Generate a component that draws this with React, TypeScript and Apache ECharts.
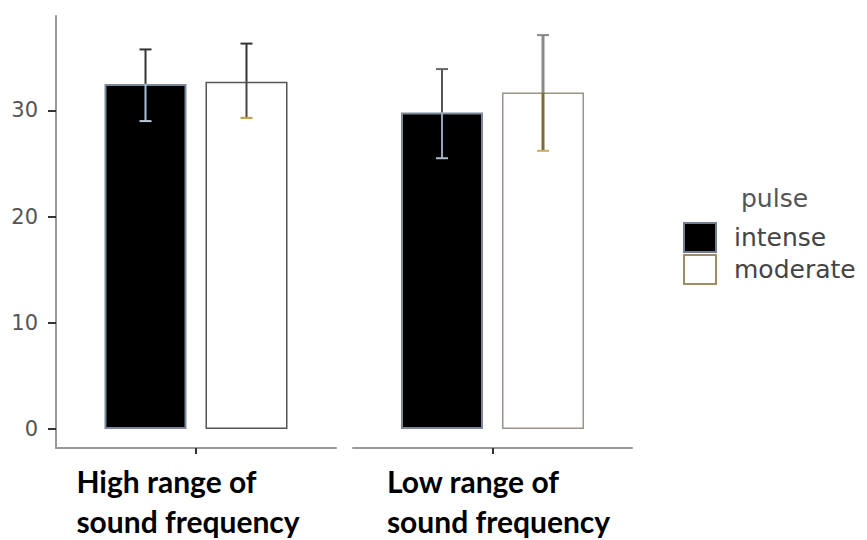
import React, { useEffect, useRef } from "react";
import * as echarts from "echarts";

const categories = ["High range of\nsound frequency", "Low range of\nsound frequency"];
const pulseLevels = ["intense", "moderate"];
const intenseMeans = [32.5, 29.8];
const moderateMeans = [32.7, 31.7];
const intenseLow = [29.0, 25.5];
const intenseHigh = [35.75, 33.9];
const moderateLow = [29.3, 26.2];
const moderateHigh = [36.3, 37.1];
const yTickValues = [0, 10, 20, 30];
const yMin = -1.8;
const yMax = 38.9;

const BAR_W = 82;
const BAR_GAP = 19;
const OFFSET = (BAR_W + BAR_GAP) / 2;
const LABEL_PADDING = [
  [0, 16, 0, 0],
  [0, 0, 0, 12],
];

type ErrStyle = { upper: string; lower: string; capTop: string; capBottom: string; w: number };

const errStyles: Record<string, ErrStyle[]> = {
  intense: [
    { upper: "#333333", lower: "#a9c0da", capTop: "#333333", capBottom: "#b8c8da", w: 2 },
    { upper: "#555555", lower: "#93a6bd", capTop: "#666666", capBottom: "#b0bccb", w: 2 },
  ],
  moderate: [
    { upper: "#333333", lower: "#444444", capTop: "#333333", capBottom: "#c49a3c", w: 2 },
    { upper: "#8a8a8a", lower: "#7a6a3c", capTop: "#888888", capBottom: "#c8ae5a", w: 3 },
  ],
};

export default function App() {
  const ref = useRef<HTMLDivElement>(null);
  useEffect(() => {
    document.body.style.margin = "0";
    if (!ref.current) return;
    const chart = echarts.init(ref.current, undefined, { renderer: "svg" });

    const series: any[] = [];
    categories.forEach((cat, gi) => {
      series.push({
        type: "bar",
        name: "intense",
        xAxisIndex: gi,
        yAxisIndex: gi,
        data: [intenseMeans[gi]],
        barWidth: BAR_W,
        barGap: (BAR_GAP / BAR_W) * 100 + "%",
        itemStyle: { color: "#000000", borderColor: "#7d8898", borderWidth: 2 },
        emphasis: { disabled: true },
      });
      series.push({
        type: "bar",
        name: "moderate",
        xAxisIndex: gi,
        yAxisIndex: gi,
        data: [moderateMeans[gi]],
        barWidth: BAR_W,
        barGap: (BAR_GAP / BAR_W) * 100 + "%",
        itemStyle: {
          color: "#ffffff",
          borderColor: gi === 0 ? "#555555" : "#9a9488",
          borderWidth: 1.5,
        },
        emphasis: { disabled: true },
      });
      [
        { name: "intense", low: intenseLow, high: intenseHigh, mean: intenseMeans, off: -OFFSET },
        { name: "moderate", low: moderateLow, high: moderateHigh, mean: moderateMeans, off: OFFSET },
      ].forEach((e) => {
        const st = errStyles[e.name][gi];
        series.push({
          type: "custom",
          name: e.name + "-err",
          xAxisIndex: gi,
          yAxisIndex: gi,
          z: 5,
          silent: true,
          encode: { x: 0, y: [1, 2] },
          data: [[0, e.low[gi], e.high[gi], e.mean[gi]]],
          renderItem: (params: any, api: any) => {
            const x = api.value(0);
            const pH = api.coord([x, api.value(2)]);
            const pL = api.coord([x, api.value(1)]);
            const pM = api.coord([x, api.value(3)]);
            const cx = pH[0] + e.off;
            const hw = 6;
            return {
              type: "group",
              children: [
                { type: "line", shape: { x1: cx, y1: pH[1], x2: cx, y2: pM[1] }, style: { stroke: st.upper, lineWidth: st.w } },
                { type: "line", shape: { x1: cx, y1: pM[1], x2: cx, y2: pL[1] }, style: { stroke: st.lower, lineWidth: st.w } },
                { type: "line", shape: { x1: cx - hw, y1: pH[1], x2: cx + hw, y2: pH[1] }, style: { stroke: st.capTop, lineWidth: 2 } },
                { type: "line", shape: { x1: cx - hw, y1: pL[1], x2: cx + hw, y2: pL[1] }, style: { stroke: st.capBottom, lineWidth: 2 } },
              ],
            };
          },
        });
      });
    });

    const axisLineStyle = { color: "#9a9a9a", width: 2 };

    chart.setOption({
      animation: false,
      backgroundColor: "#ffffff",
      grid: [
        { left: 56, top: 16, width: 280, height: 432 },
        { left: 353, top: 16, width: 279, height: 432 },
      ],
      xAxis: categories.map((cat, gi) => ({
        type: "category",
        gridIndex: gi,
        data: [cat],
        axisLine: { show: true, onZero: false, lineStyle: axisLineStyle },
        axisTick: { show: true, alignWithLabel: true, length: 6, lineStyle: { color: "#333333", width: 2 } },
        axisLabel: {
          margin: 13,
          padding: LABEL_PADDING[gi],
          formatter: (v: string) => v.split("\n").map((l) => "{a|" + l + "}").join("\n"),
          rich: {
            a: {
              fontFamily: "Lato",
              fontWeight: "bold",
              fontSize: 30,
              lineHeight: 40,
              color: "#000000",
              align: "left",
            },
          },
        },
      })),
      yAxis: categories.map((cat, gi) => ({
        type: "value",
        gridIndex: gi,
        min: yMin,
        max: yMax,
        show: gi === 0,
        splitLine: { show: false },
        axisLine: { show: true, onZero: false, lineStyle: axisLineStyle },
        axisTick: { show: true, length: 8, customValues: yTickValues, lineStyle: { color: "#333333", width: 2 } },
        axisLabel: {
          customValues: yTickValues,
          margin: 18,
          fontFamily: "DejaVu Sans",
          fontSize: 21,
          color: "#555555",
        },
      })),
      legend: {
        orient: "vertical",
        left: 683,
        top: 222,
        padding: 0,
        itemWidth: 32,
        itemHeight: 29,
        itemGap: 1,
        icon: "rect",
        selectedMode: false,
        data: [
          { name: pulseLevels[0], itemStyle: { color: "#000000", borderColor: "#6f7d90", borderWidth: 2 } },
          { name: pulseLevels[1], itemStyle: { color: "#ffffff", borderColor: "#a08c64", borderWidth: 2 } },
        ],
        textStyle: {
          fontFamily: "DejaVu Sans",
          fontSize: 25,
          color: "#444444",
          padding: [0, 0, 0, 13],
        },
      },
      graphic: [
        {
          type: "text",
          left: 741,
          top: 186,
          style: { text: "pulse", fontFamily: "DejaVu Sans", fontSize: 25, fill: "#555555" },
        },
      ],
      series,
    });
    return () => chart.dispose();
  }, []);
  return <div ref={ref} style={{ width: 867, height: 540 }} />;
}
